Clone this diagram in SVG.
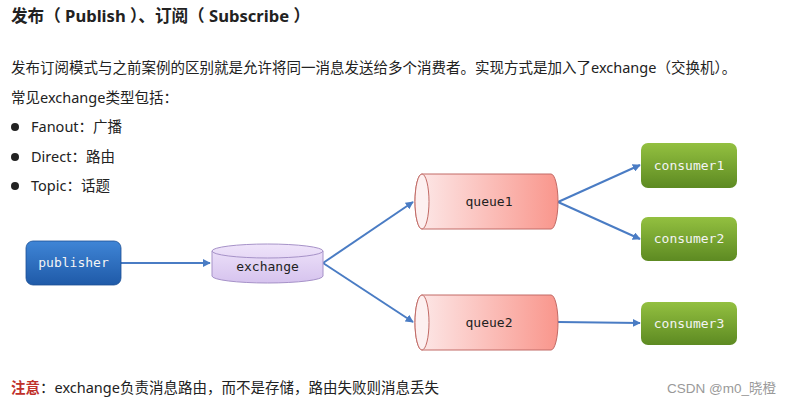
<svg xmlns="http://www.w3.org/2000/svg" width="789" height="404" viewBox="0 0 789 404">
<style>
.t{font-family:"Noto Sans","Noto Sans CJK SC",sans-serif;fill:#222;font-size:14.5px}
.h{font-family:"Noto Sans","Noto Sans CJK SC",sans-serif;fill:#222;font-size:16.6px;font-weight:bold}
.n{font-family:"DejaVu Sans Mono","Liberation Mono",monospace;font-size:13px;text-anchor:middle}
.w{fill:#f4f4f4}
.k{fill:#222}
.c{fill:none;stroke:#4a7cc4;stroke-width:2}
</style>
<defs>
<linearGradient id="gb" x1="0" y1="0" x2="0" y2="1"><stop offset="0" stop-color="#3f85d6"/><stop offset="1" stop-color="#1f5aa8"/></linearGradient>
<linearGradient id="gg" x1="0" y1="0" x2="0" y2="1"><stop offset="0" stop-color="#93c040"/><stop offset="1" stop-color="#5d8a22"/></linearGradient>
<linearGradient id="gp" x1="0" y1="0" x2="0" y2="1"><stop offset="0" stop-color="#efe4fa"/><stop offset="1" stop-color="#d6c3ee"/></linearGradient>
<linearGradient id="gr" x1="0" y1="0" x2="1" y2="0"><stop offset="0" stop-color="#fdeaea"/><stop offset="1" stop-color="#f9968c"/></linearGradient>
<marker id="ar" viewBox="0 0 10 10" refX="9" refY="5" markerWidth="4" markerHeight="4" orient="auto"><path d="M0,0L10,5L0,10z" fill="#4a7cc4"/></marker>
</defs>
<rect width="789" height="404" fill="#fff"/>
<text class="h" x="11" y="22">发布（ Publish ）、订阅（ Subscribe ）</text>
<text class="t" x="11" y="73" font-size="14.8">发布订阅模式与之前案例的区别就是允许将同一消息发送给多个消费者。实现方式是加入了exchange（交换机）。</text>
<text class="t" x="11" y="103">常见exchange类型包括：</text>
<circle cx="15" cy="127" r="4" fill="#222"/>
<text class="t" x="31" y="132">Fanout：广播</text>
<circle cx="15" cy="157" r="4" fill="#222"/>
<text class="t" x="31" y="162">Direct：路由</text>
<circle cx="15" cy="186" r="4" fill="#222"/>
<text class="t" x="31" y="191">Topic：话题</text>
<text class="t" x="11" y="393"><tspan fill="#c0302a" font-weight="bold">注意</tspan>：exchange负责消息路由，而不是存储，路由失败则消息丢失</text>
<text x="776" y="393" text-anchor="end" font-family="'Liberation Sans','Noto Sans CJK SC',sans-serif" font-size="13.5" fill="#999">CSDN @m0_晓橙</text>
<g id="connectors">
<path class="c" d="M121,263H210" marker-end="url(#ar)"/>
<path class="c" d="M323,263L413,202" marker-end="url(#ar)"/>
<path class="c" d="M323,263L413,322" marker-end="url(#ar)"/>
<path class="c" d="M558,202L640,165" marker-end="url(#ar)"/>
<path class="c" d="M558,202L640,239" marker-end="url(#ar)"/>
<path class="c" d="M558,322L640,323" marker-end="url(#ar)"/>
</g>
<g id="publisher">
<rect x="26" y="241" width="95" height="44" rx="7" fill="url(#gb)" stroke="#1c4f94" stroke-width="0.8"/>
<text class="n w" x="73.5" y="267">publisher</text>
</g>
<g id="exchange">
<path d="M212,251A55.5,7 0 0 1 323,251V276A55.5,7 0 0 1 212,276Z" fill="url(#gp)" stroke="#a692c8" stroke-width="1"/>
<path d="M212,251A55.5,7 0 0 0 323,251" fill="none" stroke="#a692c8" stroke-width="1"/>
<text class="n k" x="267.5" y="271">exchange</text>
</g>
<g id="queue1">
<path d="M422,174H551A7,27.5 0 0 1 551,229H422A7,27.5 0 0 1 422,174Z" fill="url(#gr)" stroke="#c26b66" stroke-width="1"/>
<ellipse cx="422" cy="201.5" rx="7" ry="27.5" fill="#fdf0f0" stroke="#c26b66" stroke-width="1"/>
<text class="n k" x="489" y="206">queue1</text>
</g>
<g id="queue2">
<path d="M422,295H551A7,27.5 0 0 1 551,350H422A7,27.5 0 0 1 422,295Z" fill="url(#gr)" stroke="#c26b66" stroke-width="1"/>
<ellipse cx="422" cy="322.5" rx="7" ry="27.5" fill="#fdf0f0" stroke="#c26b66" stroke-width="1"/>
<text class="n k" x="489" y="327">queue2</text>
</g>
<g id="consumer1">
<rect x="641" y="143" width="96" height="45" rx="7" fill="url(#gg)"/>
<text class="n w" x="689" y="170">consumer1</text>
</g>
<g id="consumer2">
<rect x="641" y="217" width="96" height="44" rx="7" fill="url(#gg)"/>
<text class="n w" x="689" y="243">consumer2</text>
</g>
<g id="consumer3">
<rect x="641" y="302" width="96" height="43" rx="7" fill="url(#gg)"/>
<text class="n w" x="689" y="328">consumer3</text>
</g>
</svg>
